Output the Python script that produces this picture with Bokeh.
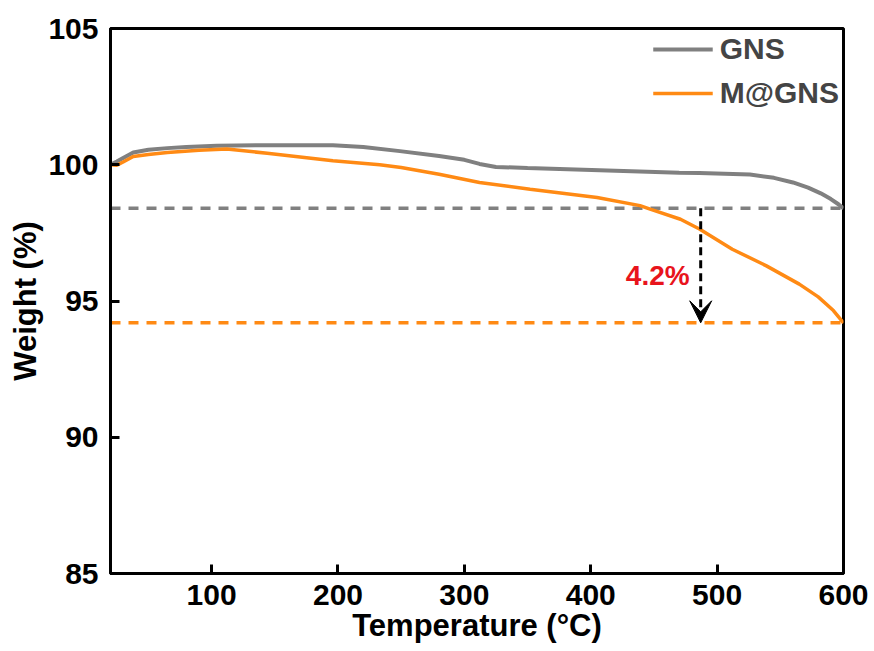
from bokeh.plotting import figure
from bokeh.models import Range1d, Legend, LegendItem, Arrow, VeeHead, FixedTicker, Label
from bokeh.embed import file_html
from bokeh.resources import INLINE

# Data
temp_gns = [20, 25, 30, 38, 50, 65, 80, 104, 150, 196, 220, 249, 280, 300, 312, 325, 350,
            407, 470, 486, 526, 545, 560, 572, 582, 590, 596, 600]
weight_gns = [100.0, 100.12, 100.25, 100.45, 100.55, 100.61, 100.65, 100.7, 100.72, 100.72,
              100.65, 100.5, 100.32, 100.18, 100.03, 99.92, 99.88, 99.8, 99.71, 99.7, 99.64,
              99.52, 99.35, 99.16, 98.95, 98.74, 98.55, 98.4]

temp_m = [20, 25, 30, 38, 50, 65, 90, 112, 144, 196, 233, 250, 280, 312, 352, 405, 439, 447,
          471, 486, 512, 539, 565, 580, 592, 600]
weight_m = [100.0, 99.98, 100.1, 100.3, 100.38, 100.45, 100.53, 100.58, 100.42, 100.15, 100.0,
            99.9, 99.65, 99.35, 99.1, 98.8, 98.5, 98.37, 98.0, 97.64, 96.9, 96.29, 95.62,
            95.15, 94.65, 94.2]

final_gns = 98.4
final_m = 94.2
arrow_temp = 487
loss_label = "4.2%"
series_names = ["GNS", "M@GNS"]
x_ticks = [100, 200, 300, 400, 500, 600]
y_ticks = [85, 90, 95, 100, 105]

GRAY = "#808080"
ORANGE = "#FF8A14"
FONT = "Liberation Sans"

p = figure(width=874, height=651, output_backend="svg", toolbar_location=None,
           x_range=Range1d(20, 600), y_range=Range1d(85, 105),
           min_border_left=110, min_border_right=31, min_border_top=28, min_border_bottom=78)

p.xgrid.visible = False
p.ygrid.visible = False
p.outline_line_color = "black"
p.outline_line_width = 3
p.outline_line_alpha = 1

for ax in (p.xaxis[0], p.yaxis[0]):
    ax.axis_line_width = 3
    ax.major_tick_line_width = 3
    ax.major_tick_in = 9
    ax.major_tick_out = 0
    ax.minor_tick_line_color = None
    ax.major_label_text_font = FONT
    ax.major_label_text_font_style = "bold"
    ax.major_label_text_font_size = "30px"
    ax.major_label_text_color = "black"
    ax.axis_label_text_font = FONT
    ax.axis_label_text_font_style = "bold"
    ax.axis_label_text_font_size = "31px"
    ax.axis_label_text_color = "black"

p.xaxis.ticker = FixedTicker(ticks=x_ticks)
p.yaxis.ticker = FixedTicker(ticks=y_ticks)
p.xaxis.axis_label = "Temperature (°C)"
p.yaxis.axis_label = "Weight (%)"
p.xaxis.major_label_standoff = 11
p.xaxis.axis_label_standoff = 0
p.yaxis.major_label_standoff = 12
p.yaxis.axis_label_standoff = 2

# reference dashed lines
p.line([20, 600], [final_gns, final_gns], line_color=GRAY, line_width=3.5, line_dash="10 8")
p.line([20, 600], [final_m, final_m], line_color=ORANGE, line_width=3.5, line_dash="10 8")

r_gns = p.line(temp_gns, weight_gns, line_color=GRAY, line_width=4)
r_m = p.line(temp_m, weight_m, line_color=ORANGE, line_width=3.5)

# arrow
p.add_layout(Arrow(x_start=arrow_temp, y_start=final_gns, x_end=arrow_temp, y_end=final_m,
                   line_color="black", line_width=3, line_dash="8 5",
                   end=VeeHead(size=22, fill_color="black", line_color="black", line_width=1)))

p.add_layout(Label(x=453, y=95.93, text=loss_label, text_color="#E8141C",
                   text_font=FONT, text_font_style="bold", text_font_size="28px",
                   text_align="center", text_baseline="middle"))

legend = Legend(items=[LegendItem(label=series_names[0], renderers=[r_gns]),
                       LegendItem(label=series_names[1], renderers=[r_m])],
                location="top_right")
legend.border_line_color = None
legend.background_fill_alpha = 0
legend.label_text_font = FONT
legend.label_text_font_style = "bold"
legend.label_text_font_size = "30px"
legend.glyph_width = 60
legend.glyph_height = 30
legend.label_height = 30
legend.spacing = 10
legend.label_standoff = 7
legend.padding = 0
legend.margin = 4
p.add_layout(legend)

open("out.html", "w").write(file_html(p, INLINE))
